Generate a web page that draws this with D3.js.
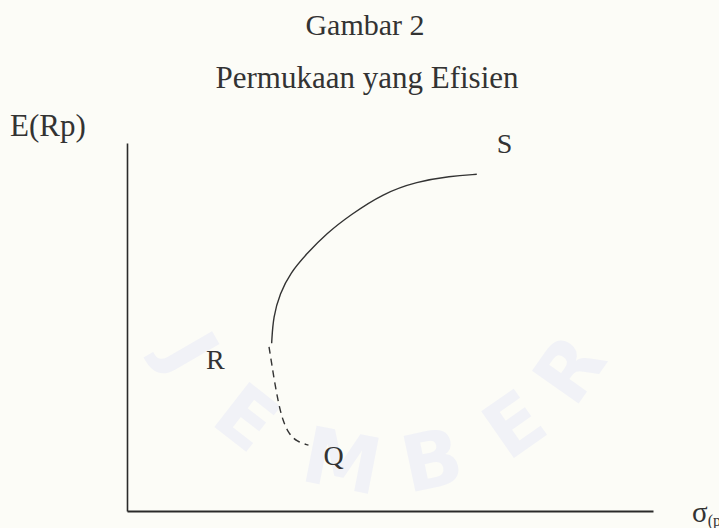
<!DOCTYPE html>
<html>
<head>
<meta charset="utf-8">
<script src="https://d3js.org/d3.v7.min.js"></script>
<style>
	html, body { margin: 0; padding: 0; background: #fcfcf7; overflow: hidden; }
	text { font-family: 'Liberation Serif', 'Times New Roman', serif; fill: #333333; }
</style>
</head>
<body>
<div id="vis"></div>
<script>
// efficient frontier, upper part R -> S (solid)
var efficientX = [27.5, 27.8, 29.1, 31.0, 34.2, 38.0, 42.4, 48.7, 55.1, 61.4, 66.5];
var efficientY = [45.6, 52.8, 59.2, 64.6, 70.0, 75.5, 80.4, 86.3, 89.5, 91.0, 91.5];

// lower part R -> Q (dashed)
var lowerX = [27.0, 27.5, 28.1, 28.8, 29.6, 30.7, 32.3, 34.5];
var lowerY = [44.6, 40.1, 34.7, 29.3, 24.7, 21.1, 18.8, 17.9];

var titles = ['Gambar 2', 'Permukaan yang Efisien'];
var yLabel = 'E(Rp)';
var xLabel = 'σ';
var xLabelSub = '(p)';
var watermark = ['J', 'E', 'M', 'B', 'E', 'R'];

var width = 719,
	height = 528;

var margin = {
	left: 127,
	top: 143,
	right: 66,
	bottom: 17
};

var drawWidth = width - margin.left - margin.right,
	drawHeight = height - margin.top - margin.bottom;

var svg = d3.select('#vis')
	.append('svg')
	.attr('width', width)
	.attr('height', height);

// faint watermark of the source scan
var wm = svg.append('g');

var angles = [150, 128, 101, 78, 55, 35];
watermark.forEach(function(l, i) {
	var a = angles[i] * Math.PI / 180,
		cx = 385 + 225 * Math.cos(a),
		cy = 240 + 225 * Math.sin(a);
	wm.append('text')
		.attr('transform', 'translate(' + cx + ',' + cy + ') rotate(' + (angles[i] - 90) + ')')
		.attr('text-anchor', 'middle')
		.attr('dy', '0.35em')
		.style('fill', '#f1f2f7')
		.style('font-family', 'DejaVu Sans, sans-serif')
		.style('font-weight', 'bold')
		.style('font-size', '78px')
		.text(l);
});

var g = svg.append('g')
	.attr('transform', 'translate(' + margin.left + ',' + margin.top + ')');

var x = d3.scaleLinear()
	.domain([0, 100])
	.range([0, drawWidth]);

var y = d3.scaleLinear()
	.domain([0, 100])
	.range([drawHeight, 0]);

// axes without ticks
g.append('g')
	.attr('transform', 'translate(0,' + drawHeight + ')')
	.call(d3.axisBottom(x).ticks(0).tickSize(0))
	.call(function(a) { a.select('.domain').attr('stroke', '#2a2a2a').attr('stroke-width', 2); });

g.append('g')
	.call(d3.axisLeft(y).ticks(0).tickSize(0))
	.call(function(a) { a.select('.domain').attr('stroke', '#2a2a2a').attr('stroke-width', 1.6); });

var line = d3.line()
	.x(function(d) { return x(d[0]); })
	.y(function(d) { return y(d[1]); })
	.curve(d3.curveBasis);

var upper = efficientX.map(function(v, i) { return [v, efficientY[i]]; });
var lower = lowerX.map(function(v, i) { return [v, lowerY[i]]; });

g.append('path')
	.datum(upper)
	.attr('fill', 'none')
	.attr('stroke', '#333')
	.attr('stroke-width', 1.4)
	.attr('d', line);

g.append('path')
	.datum(lower)
	.attr('fill', 'none')
	.attr('stroke', '#333')
	.attr('stroke-width', 1.4)
	.attr('stroke-dasharray', '7,5')
	.attr('d', line);

// point labels
var rPt = lower[0],
	qPt = lower[lower.length - 1],
	sPt = upper[upper.length - 1];

g.append('text')
	.attr('x', x(rPt[0]) - 63)
	.attr('y', y(rPt[1]) + 22)
	.attr('font-size', 28)
	.text('R');

g.append('text')
	.attr('x', x(qPt[0]) + 15)
	.attr('y', y(qPt[1]) + 20)
	.attr('font-size', 28)
	.text('Q');

g.append('text')
	.attr('x', x(sPt[0]) + 20)
	.attr('y', y(sPt[1]) - 21)
	.attr('font-size', 28)
	.text('S');

// titles
svg.append('text')
	.attr('x', 365)
	.attr('y', 35)
	.attr('text-anchor', 'middle')
	.attr('font-size', 30)
	.text(titles[0]);

svg.append('text')
	.attr('x', 367)
	.attr('y', 88)
	.attr('text-anchor', 'middle')
	.attr('font-size', 31)
	.text(titles[1]);

// axis labels
svg.append('text')
	.attr('x', 10)
	.attr('y', 136)
	.attr('font-size', 31)
	.text(yLabel);

var xl = svg.append('text')
	.attr('x', 692)
	.attr('y', 522)
	.attr('font-size', 29)
	.text(xLabel);
xl.append('tspan')
	.attr('font-size', 16)
	.attr('dy', 4)
	.text(xLabelSub);
</script>
</body>
</html>
